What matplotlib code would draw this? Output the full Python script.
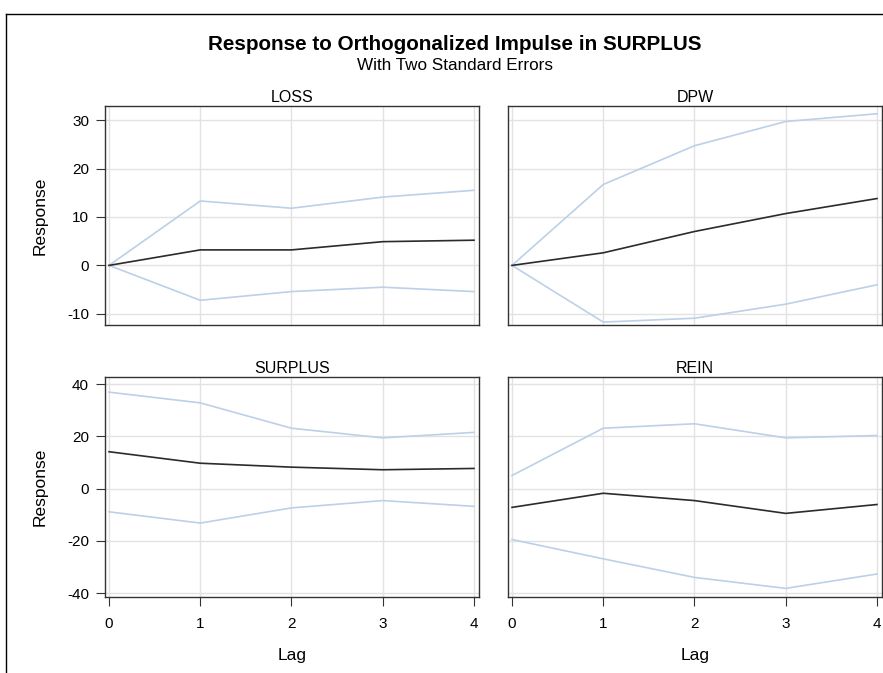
import numpy as np
import matplotlib
matplotlib.use("Agg")
import matplotlib.pyplot as plt
from matplotlib.lines import Line2D

plt.rcParams['font.family'] = ['Liberation Sans', 'DejaVu Sans']
plt.rcParams['axes.unicode_minus'] = False

lags = [0, 1, 2, 3, 4]

# response and two-standard-error bands
loss_mid = [0, 3.2, 3.2, 4.9, 5.2]
loss_hi = [0, 13.3, 11.8, 14.1, 15.5]
loss_lo = [0, -7.2, -5.4, -4.5, -5.4]

dpw_mid = [0, 2.6, 7.0, 10.7, 13.8]
dpw_hi = [0, 16.7, 24.7, 29.7, 31.3]
dpw_lo = [0, -11.7, -10.9, -8.0, -4.0]

surplus_mid = [14.1, 9.7, 8.2, 7.2, 7.7]
surplus_hi = [36.9, 32.8, 23.1, 19.4, 21.5]
surplus_lo = [-8.9, -13.2, -7.4, -4.6, -6.8]

rein_mid = [-7.2, -1.8, -4.6, -9.5, -6.1]
rein_hi = [5.0, 23.1, 24.8, 19.4, 20.3]
rein_lo = [-19.5, -26.9, -34.0, -38.2, -32.7]

panels = [
    ("LOSS", loss_mid, loss_hi, loss_lo),
    ("DPW", dpw_mid, dpw_hi, dpw_lo),
    ("SURPLUS", surplus_mid, surplus_hi, surplus_lo),
    ("REIN", rein_mid, rein_hi, rein_lo),
]
top_ticks = [-10, 0, 10, 20, 30]
bot_ticks = [-40, -20, 0, 20, 40]

W, H = 883, 673
fig = plt.figure(figsize=(W / 100, H / 100), dpi=100)

# outer frame (left and top edges visible)
fig.add_artist(Line2D([6 / W, 6 / W], [0, 1 - 14 / H], color="black", lw=1.0))
fig.add_artist(Line2D([6 / W, 1], [1 - 14 / H, 1 - 14 / H], color="black", lw=1.0))

fig.text(455 / W, 1 - 44 / H, "Response to Orthogonalized Impulse in SURPLUS",
         ha="center", va="center", fontsize=14.9, fontweight="bold")
fig.text(455 / W, 1 - 66 / H, "With Two Standard Errors",
         ha="center", va="center", fontsize=12.3)

lefts = [105 / W, 508 / W]
width = 374 / W
rows = [((673 - 325) / H, 219 / H), ((673 - 597) / H, 220 / H)]

for i, (name, mid, hi, lo) in enumerate(panels):
    r, c = divmod(i, 2)
    bottom, height = rows[r]
    ax = fig.add_axes([lefts[c], bottom, width, height])
    ax.plot(lags, hi, color="#bcd0e8", lw=1.2)
    ax.plot(lags, lo, color="#bcd0e8", lw=1.2)
    ax.plot(lags, mid, color="#2b2b2b", lw=1.2)
    ax.set_xlim(-0.044, 4.055)
    ax.set_xticks(lags)
    if r == 0:
        ax.set_ylim(-12.3, 32.9)
        ax.set_yticks(top_ticks)
    else:
        ax.set_ylim(-41.5, 42.7)
        ax.set_yticks(bot_ticks)
    ax.grid(True, color="#e2e2e2", lw=1.0)
    ax.set_axisbelow(True)
    for s in ax.spines.values():
        s.set_color("#333333")
        s.set_linewidth(1.0)
    ax.tick_params(labelsize=11, color="#333333", length=6.5)
    ax.tick_params(axis="y", pad=5)
    ax.tick_params(axis="x", pad=8)
    ax.set_title(name, fontsize=11.5, pad=3)
    if c == 0:
        ax.set_ylabel("Response", fontsize=12.5, labelpad=14)
    else:
        ax.tick_params(axis="y", left=False, labelleft=False)
    if r == 0:
        ax.tick_params(axis="x", bottom=False, labelbottom=False)
    else:
        ax.set_xlabel("Lag", fontsize=12.5, labelpad=12)

fig.savefig("out.png", dpi=100)
